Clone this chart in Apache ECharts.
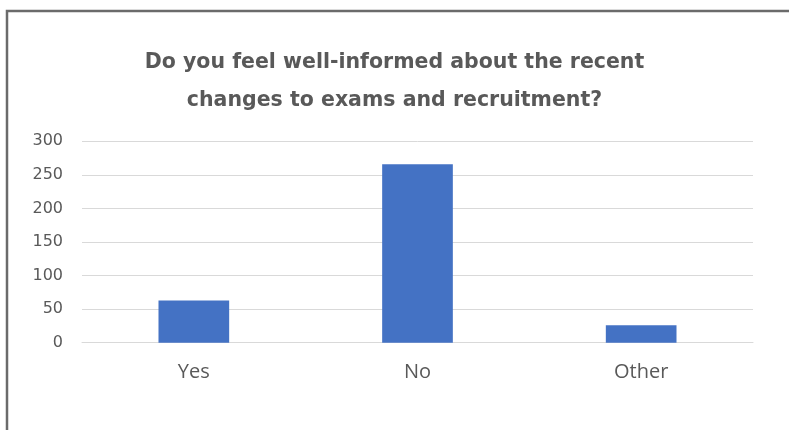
<!DOCTYPE html>
<html>
<head>
<meta charset="utf-8">
<script src="https://cdn.jsdelivr.net/npm/echarts@6/dist/echarts.min.js"></script>
<style>
  html, body { margin: 0; padding: 0; background: #ffffff; }
  #chart { width: 789px; height: 430px; }
</style>
</head>
<body>
<div id="chart"></div>
<script>
// Survey responses
const categories = ['Yes', 'No', 'Other'];
const responses = [63, 266, 26];
const yTicks = [0, 50, 100, 150, 200, 250, 300];

const titleText = 'Do you feel well-informed about the recent\nchanges to exams and recruitment?';
const textColor = '#595959';

const chart = echarts.init(document.getElementById('chart'), null, { renderer: 'canvas' });

chart.setOption({
  animation: false,
  backgroundColor: '#ffffff',
  graphic: [{
    type: 'rect',
    z: 100,
    silent: true,
    shape: { x: 7, y: 11, width: 900, height: 600 },
    style: { fill: 'none', stroke: '#6b6b6b', lineWidth: 2.5 }
  }],
  title: {
    text: titleText,
    left: 'center',
    top: 39,
    textStyle: {
      color: textColor,
      fontFamily: '"DejaVu Sans", sans-serif',
      fontWeight: 'bold',
      fontSize: 20.5,
      lineHeight: 38
    }
  },
  grid: {
    left: 82,
    right: 36,
    top: 141.3,
    bottom: 430 - 342.7,
    containLabel: false
  },
  xAxis: {
    type: 'category',
    data: categories,
    axisLine: { show: true, lineStyle: { color: '#d9d9d9', width: 1 } },
    axisTick: { show: false },
    axisLabel: {
      color: textColor,
      fontFamily: '"Open Sans", sans-serif',
      fontSize: 20,
      margin: 20
    }
  },
  yAxis: {
    type: 'value',
    min: yTicks[0],
    max: yTicks[yTicks.length - 1],
    interval: yTicks[1] - yTicks[0],
    axisLine: { show: false },
    axisTick: { show: false },
    splitLine: { lineStyle: { color: '#d9d9d9', width: 1 } },
    axisLabel: {
      color: textColor,
      fontFamily: '"DejaVu Sans", sans-serif',
      fontSize: 16,
      margin: 19
    }
  },
  series: [{
    type: 'bar',
    data: responses,
    barWidth: '31.6%',
    itemStyle: { color: '#4472c4' }
  }]
});
</script>
</body>
</html>
